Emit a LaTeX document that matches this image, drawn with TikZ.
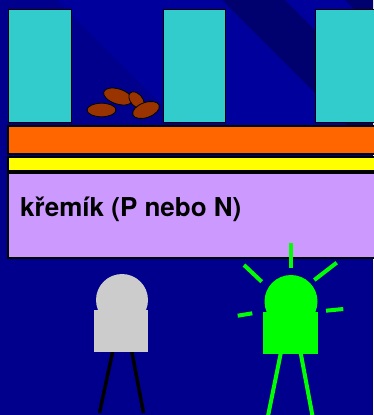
\documentclass[tikz,border=0pt]{standalone}
\usepackage{fontspec}
\setmainfont{TeX Gyre Heros}
\newfontfamily\labelfont{TeX Gyre Heros}
\begin{document}
\begin{tikzpicture}[x=1pt,y=-1pt,
  bgbase/.style={fill={rgb,255:red,0;green,0;blue,140}},
  bglight/.style={fill={rgb,255:red,0;green,0;blue,156}},
  bgdark/.style={fill={rgb,255:red,0;green,0;blue,110}},
  pillar/.style={fill={rgb,255:red,51;green,204;blue,204},draw=black,line width=1pt},
  layer/.style={draw=black,line width=1.3pt},
  grain/.style={fill={rgb,255:red,153;green,51;blue,0},draw=black,line width=0.8pt},
  offled/.style={fill={rgb,255:red,204;green,204;blue,204}},
  onled/.style={fill={rgb,255:red,0;green,255;blue,0}},
  offleg/.style={draw=black,line width=3.5pt},
  onleg/.style={draw={rgb,255:red,0;green,255;blue,0},line width=4pt},
  ray/.style={draw={rgb,255:red,0;green,255;blue,0},line width=4pt}]
\useasboundingbox (0,0) rectangle (373,415);
% backdrop with diagonal bands at the top
\fill[bgbase] (0,0) rectangle (373,415);
\begin{scope}
  \clip (0,0) rectangle (373,126);
  \fill[bglight] (57,0) -- (222,0) -- (348,126) -- (183,126) -- cycle;
  \fill[bgdark]  (222,0) -- (285,0) -- (411,126) -- (348,126) -- cycle;
  \fill[bglight] (285,0) -- (345,0) -- (471,126) -- (411,126) -- cycle;
  \fill[bgdark]  (345,0) -- (500,0) -- (626,126) -- (471,126) -- cycle;
\end{scope}
% gate pillars
\draw[pillar] (8,9) rectangle (71,122);
\draw[pillar] (163,9) rectangle (225,122);
\draw[pillar] (315,9) rectangle (380,122);
% charge grains
\draw[grain] (118,96.5) ellipse [x radius=15, y radius=7.5, rotate=-18];
\draw[grain] (136.5,100) ellipse [x radius=9.5, y radius=6, rotate=-50];
\draw[grain] (146,110) ellipse [x radius=14, y radius=7.5, rotate=20];
\draw[grain] (101.5,110) ellipse [x radius=14.5, y radius=6.8];
% layer stack
\draw[layer,fill={rgb,255:red,255;green,102;blue,0}] (8,126) rectangle (380,154);
\draw[layer,fill={rgb,255:red,255;green,255;blue,0}] (8,157) rectangle (380,171);
\draw[layer,fill={rgb,255:red,204;green,153;blue,255}] (8,173) rectangle (380,258);
\node[anchor=base west,inner sep=0pt,font=\labelfont\bfseries\fontsize{26}{29}\selectfont] (si) at (20,216) {křemík (P nebo N)};
% unlit LED
\draw[offleg] (113,350) -- (99.5,413);
\draw[offleg] (131.5,350) -- (143.5,413);
\fill[offled] (122,300) circle [radius=26];
\fill[offled] (94,310) rectangle (148,352);
% lit LED
\draw[onleg] (281,352) -- (268,416);
\draw[onleg] (300.5,352) -- (312.5,416);
\fill[onled] (291,301.5) circle [radius=26.5];
\fill[onled] (263,311.5) rectangle (318,354);
\draw[ray] (290.7,243) -- (290.7,268);
\draw[ray] (244,265) -- (261.7,281.7);
\draw[ray] (314.3,280) -- (336.7,262.7);
\draw[ray] (237.7,315.7) -- (252.3,313.3);
\draw[ray] (326,310.7) -- (343.3,309);
\end{tikzpicture}
\end{document}
